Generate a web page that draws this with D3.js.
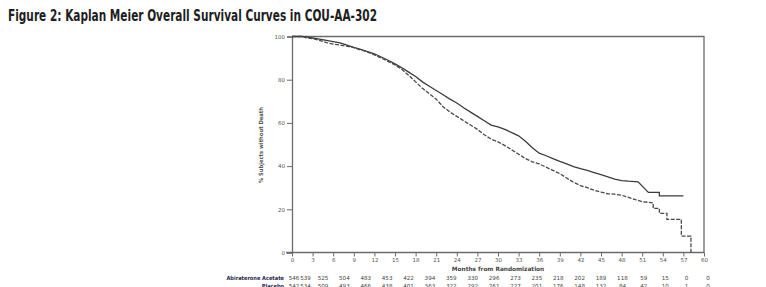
<!DOCTYPE html>
<html><head><meta charset="utf-8">
<script src="https://cdn.jsdelivr.net/npm/d3@7"></script>
<style>
body{margin:0;background:#fff;}
svg{display:block;}
</style></head>
<body>
<svg id="chart" width="766" height="287"></svg>
<script>
const title = "Figure 2: Kaplan Meier Overall Survival Curves in COU-AA-302";
const xLabel = "Months from Randomization";
const yLabel = "% Subjects without Death";
const xTicks = [0,3,6,9,12,15,18,21,24,27,30,33,36,39,42,45,48,51,54,57,60];
const yTicks = [0,20,40,60,80,100];
const seriesNames = ["Abiraterone Acetate","Placebo"];
// Kaplan-Meier estimates (month, % alive); repeated months are vertical steps
const abiTimes = [0,1.5,2,3,4,5,6,7,8,9,10,11,12,13,14,15,16,17,18,19,20,21,22,23,24,25,26,27,28,29,30,31,32,33,34,35,36,37,38,39,40,41,42,43,44,45,46,47,48,49,50.4,51.9,53.5,53.5,57];
const abiSurv  = [100,100,99.8,99.3,98.8,98.2,97.6,97.0,96.0,95.0,94.0,93.0,92.0,90.5,89.0,87.3,85.5,83.5,81.5,79.0,77.0,75.0,73.0,71.0,69.2,67.0,65.0,63.0,61.0,59.0,58.2,57.0,55.5,54.0,51.5,48.5,46.0,44.8,43.5,42.2,41.0,39.8,38.8,38.0,37.0,36.0,35.0,34.0,33.3,33.0,32.7,27.8,27.8,26.2,26.2];
const plaTimes = [0,1.5,2,3,4,5,6,7,8,9,10,11,12,13,14,15,16,17,18,19,20,21,22,23,24,25,26,27,28,29,30,31,32,33,34,35,36,37,38,39,40,41,42,43,44,45,46,47,48,49,50,51,52.6,52.6,53.5,53.5,54.6,54.6,56.7,56.7,58.1,58.1];
const plaSurv  = [100,100,99.5,99.0,98.2,97.2,96.5,96.0,95.5,94.8,93.8,92.8,91.5,90.0,88.5,86.8,84.8,82.0,79.0,76.0,73.5,71.0,67.5,65.0,63.0,61.0,59.0,57.0,54.5,52.5,51.2,49.5,47.5,45.5,43.5,42.0,41.0,39.5,38.0,36.5,34.5,32.5,31.0,30.0,28.8,28.0,27.2,27.0,26.5,25.5,24.5,23.5,23.0,20.4,20.4,18.1,18.1,15.3,15.3,7.6,7.6,0];
// Number at risk
const riskMonths = [0,3,6,9,12,15,18,21,24,27,30,33,36,39,42,45,48,51,54,57,60];
const abiRisk = [546,539,525,504,483,453,422,394,359,330,296,273,235,218,202,189,118,59,15,0,0];
const plaRisk = [542,534,509,493,466,438,401,363,322,292,261,227,201,176,148,132,84,42,10,1,0];

const svg = d3.select("#chart");
const x = d3.scaleLinear().domain([0,60]).range([292,704]);
const y = d3.scaleLinear().domain([0,100]).range([252.5,36.5]);
const xr = d3.scaleLinear().domain([0,3,6,60]).range([294,305.5,323,708]);

svg.append("text").attr("x",8).attr("y",21)
  .attr("font-family","'Liberation Sans Narrow','DejaVu Sans Condensed','Roboto',sans-serif")
  .attr("font-weight","bold").attr("font-size",15).attr("fill","#1e1e1e")
  .attr("textLength",369).attr("lengthAdjust","spacingAndGlyphs")
  .text(title);

const axCol = "#6b6b6b";
svg.append("path").attr("d",`M${x(0)},${y(100)}H${x(60)}V${y(0)}`)
  .attr("fill","none").attr("stroke",axCol).attr("stroke-width",1.3);

const gy = svg.append("g").attr("transform",`translate(${x(0)},0)`)
  .call(d3.axisLeft(y).tickValues(yTicks).tickSize(5).tickPadding(2));
const gx = svg.append("g").attr("transform",`translate(0,${y(0)})`)
  .call(d3.axisBottom(x).tickValues(xTicks).tickSize(4).tickPadding(2));
[gx,gy].forEach(g=>{
  g.select(".domain").attr("stroke",axCol).attr("stroke-width",1.3);
  g.selectAll(".tick line").attr("stroke",axCol).attr("stroke-width",1);
  g.selectAll("text").attr("font-family","'DejaVu Sans',sans-serif").attr("font-size",5.5).attr("fill","#555");
});
gx.select(".domain").attr("d",`M${x(0)-6},0H${x(60)}`);

svg.append("text").attr("transform",`translate(263,145) rotate(-90)`)
  .attr("text-anchor","middle").attr("font-family","'DejaVu Sans Condensed','DejaVu Sans',sans-serif")
  .attr("font-size",5.8).attr("font-weight","bold").attr("fill","#555").text(yLabel);
svg.append("text").attr("x",(x(0)+x(60))/2).attr("y",271)
  .attr("text-anchor","middle").attr("font-family","'DejaVu Sans',sans-serif")
  .attr("font-size",5.8).attr("font-weight","bold").attr("fill","#444").text(xLabel);

const line = d3.line().x(d=>x(d[0])).y(d=>y(d[1]));
svg.append("path").datum(d3.zip(abiTimes,abiSurv)).attr("d",line)
  .attr("fill","none").attr("stroke","#3c3c3c").attr("stroke-width",1.3);
svg.append("path").datum(d3.zip(plaTimes,plaSurv)).attr("d",line)
  .attr("fill","none").attr("stroke","#4a4a4a").attr("stroke-width",1.3).attr("stroke-dasharray","4,1.5");

const rows = [[abiRisk,279.5],[plaRisk,287.5]];
rows.forEach((r,i)=>{
  svg.append("text").attr("x",284).attr("y",r[1]).attr("text-anchor","end")
    .attr("font-family","'DejaVu Sans Condensed','DejaVu Sans',sans-serif").attr("font-size",5.6)
    .attr("font-weight","bold").attr("fill","#2a2a50").text(seriesNames[i]);
  svg.append("g").selectAll("text").data(r[0]).join("text")
    .attr("x",(d,j)=>xr(riskMonths[j])).attr("y",r[1]).attr("text-anchor","middle")
    .attr("font-family","'DejaVu Sans',sans-serif").attr("font-size",5.6).attr("fill","#444")
    .text(d=>d);
});
</script>
</body></html>
